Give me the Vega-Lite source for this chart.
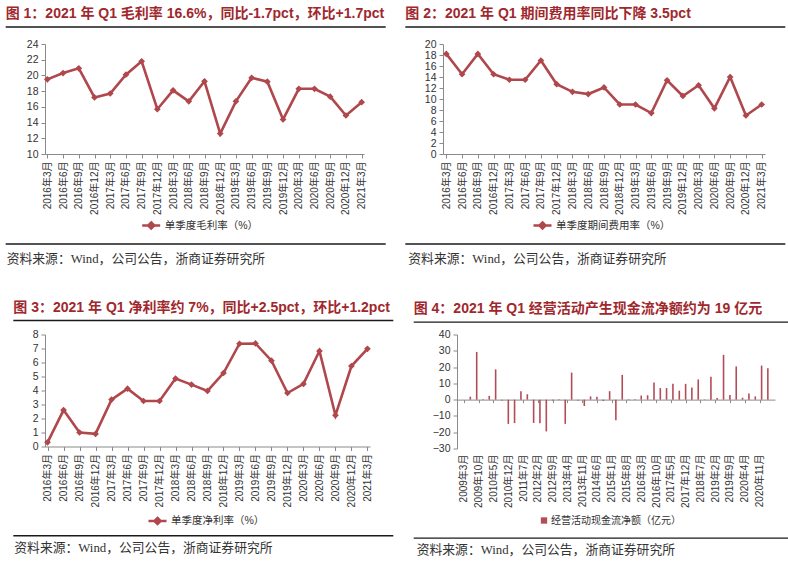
{
  "$schema": "https://vega.github.io/schema/vega-lite/v6.json",
  "padding": {"left": 5, "top": 7, "right": 0, "bottom": 0},
  "background": "white",
  "datasets": {
    "quarterly": [
      {"q": "2016年3月", "gm": 19.5, "exp": 18.2, "nm": 0.3},
      {"q": "2016年6月", "gm": 20.3, "exp": 14.5, "nm": 2.6},
      {"q": "2016年9月", "gm": 20.9, "exp": 18.2, "nm": 1.0},
      {"q": "2016年12月", "gm": 17.2, "exp": 14.5, "nm": 0.9},
      {"q": "2017年3月", "gm": 17.7, "exp": 13.5, "nm": 3.35},
      {"q": "2017年6月", "gm": 20.1, "exp": 13.5, "nm": 4.13},
      {"q": "2017年9月", "gm": 21.8, "exp": 17.0, "nm": 3.25},
      {"q": "2017年12月", "gm": 15.7, "exp": 12.7, "nm": 3.25},
      {"q": "2018年3月", "gm": 18.1, "exp": 11.3, "nm": 4.85},
      {"q": "2018年6月", "gm": 16.7, "exp": 10.9, "nm": 4.42},
      {"q": "2018年9月", "gm": 19.25, "exp": 12.1, "nm": 3.97},
      {"q": "2018年12月", "gm": 12.6, "exp": 9.0, "nm": 5.25},
      {"q": "2019年3月", "gm": 16.7, "exp": 9.0, "nm": 7.34},
      {"q": "2019年6月", "gm": 19.7, "exp": 7.45, "nm": 7.36},
      {"q": "2019年9月", "gm": 19.2, "exp": 13.4, "nm": 6.13},
      {"q": "2019年12月", "gm": 14.4, "exp": 10.55, "nm": 3.82},
      {"q": "2020年3月", "gm": 18.3, "exp": 12.5, "nm": 4.47},
      {"q": "2020年6月", "gm": 18.3, "exp": 8.3, "nm": 6.82},
      {"q": "2020年9月", "gm": 17.3, "exp": 14.0, "nm": 2.23},
      {"q": "2020年12月", "gm": 14.9, "exp": 7.0, "nm": 5.75},
      {"q": "2021年3月", "gm": 16.6, "exp": 9.0, "nm": 6.98}
    ],
    "cash": [
      {"d": "2009-06-01", "v": 1.8}, {"d": "2009-09-01", "v": 29.3}, {"d": "2009-12-01", "v": 0.2}, {"d": "2010-03-01", "v": 2.3},
      {"d": "2010-06-01", "v": 18.6}, {"d": "2010-09-01", "v": -0.5}, {"d": "2010-12-01", "v": -14.9}, {"d": "2011-03-01", "v": -14.4},
      {"d": "2011-06-01", "v": 5.2}, {"d": "2011-09-01", "v": 3.3}, {"d": "2011-12-01", "v": -14.3}, {"d": "2012-03-01", "v": -14.5},
      {"d": "2012-06-01", "v": -19.5}, {"d": "2012-09-01", "v": -0.5}, {"d": "2012-12-01", "v": 0.2}, {"d": "2013-03-01", "v": -14.9},
      {"d": "2013-06-01", "v": 16.6}, {"d": "2013-09-01", "v": -0.6}, {"d": "2013-12-01", "v": -3.9}, {"d": "2014-03-01", "v": 2.0},
      {"d": "2014-06-01", "v": 1.8}, {"d": "2014-09-01", "v": -0.8}, {"d": "2014-12-01", "v": 5.2}, {"d": "2015-03-01", "v": -12.6},
      {"d": "2015-06-01", "v": 15.2}, {"d": "2015-09-01", "v": 0.3}, {"d": "2015-12-01", "v": 0.2}, {"d": "2016-03-01", "v": 2.5},
      {"d": "2016-06-01", "v": 2.7}, {"d": "2016-09-01", "v": 10.6}, {"d": "2016-12-01", "v": 7.1}, {"d": "2017-03-01", "v": 7.1},
      {"d": "2017-06-01", "v": 9.7}, {"d": "2017-09-01", "v": 5.5}, {"d": "2017-12-01", "v": 9.7}, {"d": "2018-03-01", "v": 7.5},
      {"d": "2018-06-01", "v": 12.4}, {"d": "2018-09-01", "v": 0.2}, {"d": "2018-12-01", "v": 14.1}, {"d": "2019-03-01", "v": 1.0},
      {"d": "2019-06-01", "v": 27.5}, {"d": "2019-09-01", "v": 2.8}, {"d": "2019-12-01", "v": 20.4}, {"d": "2020-03-01", "v": 1.2},
      {"d": "2020-06-01", "v": 3.8}, {"d": "2020-09-01", "v": 2.0}, {"d": "2020-12-01", "v": 20.9}, {"d": "2021-03-01", "v": 19.3}
    ]
  },
  "config": {
    "view": {"stroke": null},
    "axis": {"labelFont": "Liberation Sans, Noto Sans CJK SC", "labelFontSize": 10, "labelColor": "#333333", "domainColor": "#8a8a8a", "tickColor": "#8a8a8a", "tickSize": 4, "grid": false},
    "title": {"font": "Liberation Sans, Noto Sans CJK SC", "fontSize": 14, "fontWeight": "bold", "color": "#a0282d", "anchor": "start", "frame": "bounds", "offset": 5},
    "legend": {"labelFont": "Liberation Sans, Noto Sans CJK SC", "labelFontSize": 10.5, "labelColor": "#333333"}
  },
  "spacing": 34.5,
  "resolve": {"scale": {"color": "independent"}, "legend": {"color": "independent"}},
  "vconcat": [
    {
      "spacing": 19,
      "resolve": {"scale": {"color": "independent"}, "legend": {"color": "independent"}},
      "hconcat": [
        {
          "width": 319, "height": 110,
          "title": "图 1：2021 年 Q1 毛利率 16.6%，同比-1.7pct，环比+1.7pct",
          "layer": [
            {
              "data": {"name": "quarterly"},
              "mark": {"type": "line", "strokeWidth": 2.6, "point": {"shape": "diamond", "size": 45, "filled": true}},
              "encoding": {
                "x": {"field": "q", "type": "ordinal", "sort": null, "scale": {"type": "point", "padding": 0.15}, "axis": {"title": null, "labelAngle": 270, "labelPadding": 3, "labelOverlap": false}},
                "y": {"field": "gm", "type": "quantitative", "scale": {"domain": [10, 24], "nice": false, "zero": false}, "axis": {"title": null, "values": [10, 12, 14, 16, 18, 20, 22, 24], "labelFontSize": 10.5, "labelPadding": 3}},
                "color": {"datum": "单季度毛利率（%）", "scale": {"range": ["#b0474c"]}, "legend": {"title": null, "orient": "none", "legendX": 95.7, "legendY": 171, "symbolType": "M-1,0L1,0M0,-0.33L0.33,0L0,0.33L-0.33,0Z", "symbolSize": 324, "labelOffset": 3, "encode": {"symbols": {"update": {"fill": {"value": "#b0474c"}, "stroke": {"value": "#b0474c"}, "strokeWidth": {"value": 2.6}}}}}}
              }
            },
            {
              "data": {"values": [{"k": "top"}]},
              "mark": {"type": "tick", "orient": "horizontal", "size": 380, "thickness": 1.3, "color": "#1a1a1a", "opacity": 1},
              "encoding": {
                "x": {"datum": 0.4724, "type": "quantitative", "scale": {"domain": [0, 1], "nice": false, "zero": false}, "axis": null},
                "y": {"datum": 1.1545, "type": "quantitative", "scale": {"domain": [0, 1], "nice": false, "zero": false}, "axis": null}
              }
            },
            {
              "data": {"values": [{"k": "bottom"}]},
              "mark": {"type": "tick", "orient": "horizontal", "size": 380, "thickness": 1.3, "color": "#1a1a1a", "opacity": 1},
              "encoding": {
                "x": {"datum": 0.4724, "type": "quantitative", "scale": {"domain": [0, 1], "nice": false, "zero": false}, "axis": null},
                "y": {"datum": -0.818, "type": "quantitative", "scale": {"domain": [0, 1], "nice": false, "zero": false}, "axis": null}
              }
            },
            {
              "data": {"values": [{}]},
              "mark": {"type": "text", "align": "left", "baseline": "middle", "font": "Liberation Serif, Noto Sans CJK SC", "fontSize": 12.8, "color": "#333333", "text": "资料来源：Wind，公司公告，浙商证券研究所"},
              "encoding": {
                "x": {"datum": -0.12, "type": "quantitative", "scale": {"domain": [0, 1], "nice": false, "zero": false}, "axis": null},
                "y": {"datum": -0.95, "type": "quantitative", "scale": {"domain": [0, 1], "nice": false, "zero": false}, "axis": null}
              }
            }
          ],
          "resolve": {"scale": {"x": "independent", "y": "independent"}}
        },
        {
          "width": 322, "height": 110,
          "title": "图 2：2021 年 Q1 期间费用率同比下降 3.5pct",
          "layer": [
            {
              "data": {"name": "quarterly"},
              "mark": {"type": "line", "strokeWidth": 2.6, "point": {"shape": "diamond", "size": 45, "filled": true}},
              "encoding": {
                "x": {"field": "q", "type": "ordinal", "sort": null, "scale": {"type": "point", "padding": 0.21}, "axis": {"title": null, "labelAngle": 270, "labelPadding": 3, "labelOverlap": false}},
                "y": {"field": "exp", "type": "quantitative", "scale": {"domain": [0, 20], "nice": false, "zero": false}, "axis": {"title": null, "values": [0, 2, 4, 6, 8, 10, 12, 14, 16, 18, 20], "labelFontSize": 10.5, "labelPadding": 3}},
                "color": {"datum": "单季度期间费用率（%）", "scale": {"range": ["#b0474c"]}, "legend": {"title": null, "orient": "none", "legendX": 89, "legendY": 171, "symbolType": "M-1,0L1,0M0,-0.33L0.33,0L0,0.33L-0.33,0Z", "symbolSize": 324, "labelOffset": 3, "encode": {"symbols": {"update": {"fill": {"value": "#b0474c"}, "stroke": {"value": "#b0474c"}, "strokeWidth": {"value": 2.6}}}}}}
              }
            },
            {
              "data": {"values": [{"k": "top"}]},
              "mark": {"type": "tick", "orient": "horizontal", "size": 380, "thickness": 1.3, "color": "#1a1a1a", "opacity": 1},
              "encoding": {
                "x": {"datum": 0.473, "type": "quantitative", "scale": {"domain": [0, 1], "nice": false, "zero": false}, "axis": null},
                "y": {"datum": 1.1545, "type": "quantitative", "scale": {"domain": [0, 1], "nice": false, "zero": false}, "axis": null}
              }
            },
            {
              "data": {"values": [{"k": "bottom"}]},
              "mark": {"type": "tick", "orient": "horizontal", "size": 380, "thickness": 1.3, "color": "#1a1a1a", "opacity": 1},
              "encoding": {
                "x": {"datum": 0.473, "type": "quantitative", "scale": {"domain": [0, 1], "nice": false, "zero": false}, "axis": null},
                "y": {"datum": -0.818, "type": "quantitative", "scale": {"domain": [0, 1], "nice": false, "zero": false}, "axis": null}
              }
            },
            {
              "data": {"values": [{}]},
              "mark": {"type": "text", "align": "left", "baseline": "middle", "font": "Liberation Serif, Noto Sans CJK SC", "fontSize": 12.8, "color": "#333333", "text": "资料来源：Wind，公司公告，浙商证券研究所"},
              "encoding": {
                "x": {"datum": -0.1078, "type": "quantitative", "scale": {"domain": [0, 1], "nice": false, "zero": false}, "axis": null},
                "y": {"datum": -0.95, "type": "quantitative", "scale": {"domain": [0, 1], "nice": false, "zero": false}, "axis": null}
              }
            }
          ],
          "resolve": {"scale": {"x": "independent", "y": "independent"}}
        }
      ]
    },
    {
      "spacing": 19,
      "resolve": {"scale": {"color": "independent"}, "legend": {"color": "independent"}},
      "hconcat": [
        {
          "width": 325, "height": 112,
          "title": "图 3：2021 年 Q1 净利率约 7%，同比+2.5pct，环比+1.2pct",
          "layer": [
            {
              "data": {"name": "quarterly"},
              "mark": {"type": "line", "strokeWidth": 2.6, "point": {"shape": "diamond", "size": 45, "filled": true}},
              "encoding": {
                "x": {"field": "q", "type": "ordinal", "sort": null, "scale": {"type": "point", "padding": 0.16}, "axis": {"title": null, "labelAngle": 270, "labelPadding": 3, "labelOverlap": false}},
                "y": {"field": "nm", "type": "quantitative", "scale": {"domain": [0, 8], "nice": false, "zero": false}, "axis": {"title": null, "values": [0, 1, 2, 3, 4, 5, 6, 7, 8], "labelFontSize": 10.5, "labelPadding": 3}},
                "color": {"datum": "单季度净利率（%）", "scale": {"range": ["#b0474c"]}, "legend": {"title": null, "orient": "none", "legendX": 102, "legendY": 176, "symbolType": "M-1,0L1,0M0,-0.33L0.33,0L0,0.33L-0.33,0Z", "symbolSize": 324, "labelOffset": 3, "encode": {"symbols": {"update": {"fill": {"value": "#b0474c"}, "stroke": {"value": "#b0474c"}, "strokeWidth": {"value": 2.6}}}}}}
              }
            },
            {
              "data": {"values": [{"k": "top"}]},
              "mark": {"type": "tick", "orient": "horizontal", "size": 380, "thickness": 1.3, "color": "#1a1a1a", "opacity": 1},
              "encoding": {
                "x": {"datum": 0.4871, "type": "quantitative", "scale": {"domain": [0, 1], "nice": false, "zero": false}, "axis": null},
                "y": {"datum": 1.125, "type": "quantitative", "scale": {"domain": [0, 1], "nice": false, "zero": false}, "axis": null}
              }
            },
            {
              "data": {"values": [{"k": "bottom"}]},
              "mark": {"type": "tick", "orient": "horizontal", "size": 380, "thickness": 1.3, "color": "#1a1a1a", "opacity": 1},
              "encoding": {
                "x": {"datum": 0.4871, "type": "quantitative", "scale": {"domain": [0, 1], "nice": false, "zero": false}, "axis": null},
                "y": {"datum": -0.797, "type": "quantitative", "scale": {"domain": [0, 1], "nice": false, "zero": false}, "axis": null}
              }
            },
            {
              "data": {"values": [{}]},
              "mark": {"type": "text", "align": "left", "baseline": "middle", "font": "Liberation Serif, Noto Sans CJK SC", "fontSize": 12.8, "color": "#333333", "text": "资料来源：Wind，公司公告，浙商证券研究所"},
              "encoding": {
                "x": {"datum": -0.0945, "type": "quantitative", "scale": {"domain": [0, 1], "nice": false, "zero": false}, "axis": null},
                "y": {"datum": -0.9075, "type": "quantitative", "scale": {"domain": [0, 1], "nice": false, "zero": false}, "axis": null}
              }
            }
          ],
          "resolve": {"scale": {"x": "independent", "y": "independent"}}
        },
        {
          "width": 318, "height": 114,
          "title": "图 4：2021 年 Q1 经营活动产生现金流净额约为 19 亿元",
          "layer": [
            {
              "data": {"name": "cash"},
              "mark": {"type": "bar", "width": 1.6, "color": "#b24d57"},
              "encoding": {
                "x": {"field": "d", "type": "temporal", "scale": {"type": "utc", "domain": [{"year": 2009, "month": 2, "date": 1, "utc": true}, {"year": 2021, "month": 4, "date": 1, "utc": true}]},
                  "axis": {"title": null, "orient": "bottom", "offset": -48.9, "labelAngle": 270, "labelPadding": 51.5, "labelOverlap": false, "domain": true, "domainColor": "#8a8a8a", "ticks": true, "tickSize": 3,
                    "values": [
                      {"year": 2009, "month": 3, "date": 1, "utc": true}, {"year": 2009, "month": 10, "date": 1, "utc": true},
                      {"year": 2010, "month": 5, "date": 1, "utc": true}, {"year": 2010, "month": 12, "date": 1, "utc": true},
                      {"year": 2011, "month": 7, "date": 1, "utc": true}, {"year": 2012, "month": 2, "date": 1, "utc": true},
                      {"year": 2012, "month": 9, "date": 1, "utc": true}, {"year": 2013, "month": 4, "date": 1, "utc": true},
                      {"year": 2013, "month": 11, "date": 1, "utc": true}, {"year": 2014, "month": 6, "date": 1, "utc": true},
                      {"year": 2015, "month": 1, "date": 1, "utc": true}, {"year": 2015, "month": 8, "date": 1, "utc": true},
                      {"year": 2016, "month": 3, "date": 1, "utc": true}, {"year": 2016, "month": 10, "date": 1, "utc": true},
                      {"year": 2017, "month": 5, "date": 1, "utc": true}, {"year": 2017, "month": 12, "date": 1, "utc": true},
                      {"year": 2018, "month": 7, "date": 1, "utc": true}, {"year": 2019, "month": 2, "date": 1, "utc": true},
                      {"year": 2019, "month": 9, "date": 1, "utc": true}, {"year": 2020, "month": 4, "date": 1, "utc": true},
                      {"year": 2020, "month": 11, "date": 1, "utc": true}
                    ],
                    "labelExpr": "utcFormat(datum.value, '%Y') + '年' + (utcmonth(datum.value) + 1) + '月'"}},
                "y": {"field": "v", "type": "quantitative", "scale": {"domain": [-30, 40], "nice": false}, "axis": {"title": null, "values": [-30, -20, -10, 0, 10, 20, 30, 40], "labelFontSize": 10.5, "labelPadding": 3}},
                "color": {"datum": "经营活动现金流净额（亿元）", "scale": {"range": ["#b24d57"]}, "legend": {"title": null, "orient": "none", "legendX": 82, "legendY": 181, "symbolType": "square", "symbolSize": 40, "labelOffset": 2, "labelFontSize": 10}}
              }
            },
            {
              "data": {"values": [{"k": "top"}]},
              "mark": {"type": "tick", "orient": "horizontal", "size": 380, "thickness": 1.3, "color": "#1a1a1a", "opacity": 1},
              "encoding": {
                "x": {"datum": 0.4613, "type": "quantitative", "scale": {"domain": [0, 1], "nice": false, "zero": false}, "axis": null},
                "y": {"datum": 1.1088, "type": "quantitative", "scale": {"domain": [0, 1], "nice": false, "zero": false}, "axis": null}
              }
            },
            {
              "data": {"values": [{"k": "bottom"}]},
              "mark": {"type": "tick", "orient": "horizontal", "size": 380, "thickness": 1.3, "color": "#1a1a1a", "opacity": 1},
              "encoding": {
                "x": {"datum": 0.4613, "type": "quantitative", "scale": {"domain": [0, 1], "nice": false, "zero": false}, "axis": null},
                "y": {"datum": -0.786, "type": "quantitative", "scale": {"domain": [0, 1], "nice": false, "zero": false}, "axis": null}
              }
            },
            {
              "data": {"values": [{}]},
              "mark": {"type": "text", "align": "left", "baseline": "middle", "font": "Liberation Serif, Noto Sans CJK SC", "fontSize": 12.8, "color": "#333333", "text": "资料来源：Wind，公司公告，浙商证券研究所"},
              "encoding": {
                "x": {"datum": -0.1267, "type": "quantitative", "scale": {"domain": [0, 1], "nice": false, "zero": false}, "axis": null},
                "y": {"datum": -0.8947, "type": "quantitative", "scale": {"domain": [0, 1], "nice": false, "zero": false}, "axis": null}
              }
            }
          ],
          "resolve": {"scale": {"x": "independent", "y": "independent"}}
        }
      ]
    }
  ]
}
